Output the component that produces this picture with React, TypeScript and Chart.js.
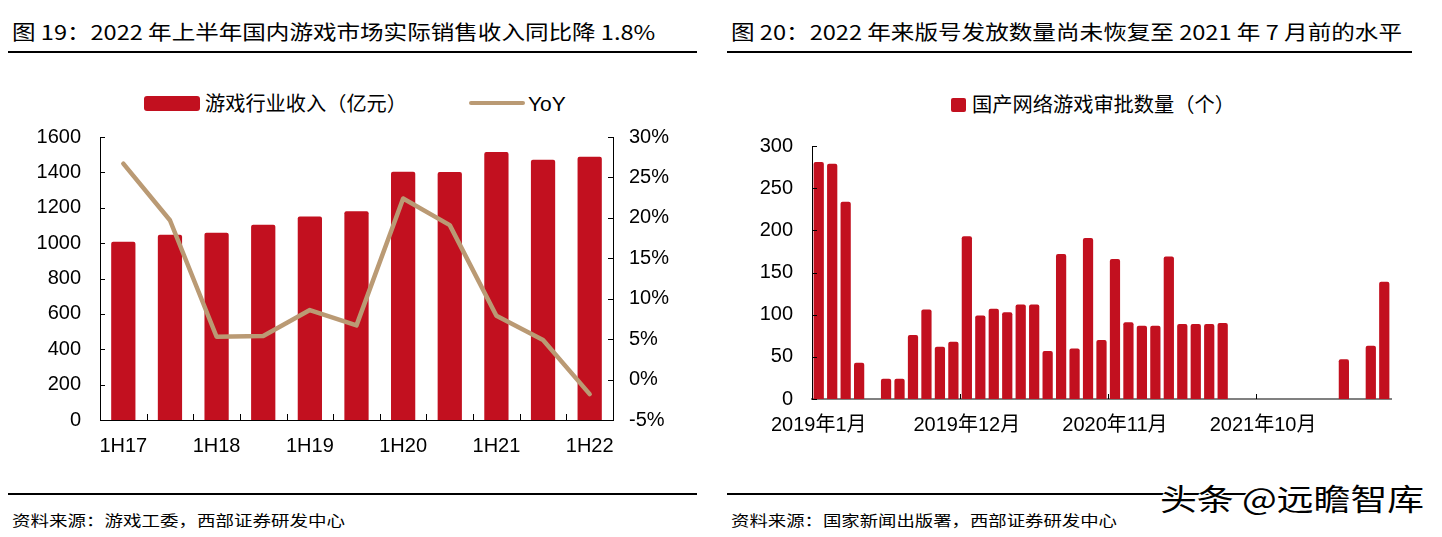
import React, { useEffect, useLayoutEffect, useRef, useState } from 'react';
import { Chart, registerables } from 'chart.js';

Chart.register(...registerables);

// ---------- data ----------
const halfYears = ['1H17', '2H17', '1H18', '2H18', '1H19', '2H19', '1H20', '2H20', '1H21', '2H21', '1H22'];
const revenue = [1008, 1048, 1059, 1104, 1150, 1180, 1404, 1402, 1515, 1472, 1489];
const yoy = [26.7, 19.7, 5.3, 5.4, 8.6, 6.7, 22.4, 19.1, 7.9, 4.9, -1.8];

const months = [
  '2019年1月', '2019年2月', '2019年3月', '2019年4月', '2019年5月', '2019年6月',
  '2019年7月', '2019年8月', '2019年9月', '2019年10月', '2019年11月', '2019年12月',
  '2020年1月', '2020年2月', '2020年3月', '2020年4月', '2020年5月', '2020年6月',
  '2020年7月', '2020年8月', '2020年9月', '2020年10月', '2020年11月', '2020年12月',
  '2021年1月', '2021年2月', '2021年3月', '2021年4月', '2021年5月', '2021年6月',
  '2021年7月', '2021年8月', '2021年9月', '2021年10月', '2021年11月', '2021年12月',
  '2022年1月', '2022年2月', '2022年3月', '2022年4月', '2022年5月', '2022年6月',
  '2022年7月',
];
const approvals = [
  281, 279, 234, 43, 0, 24, 24, 76, 106, 62, 68, 193,
  99, 107, 103, 112, 112, 57, 172, 60, 191, 70, 166, 91,
  87, 87, 169, 89, 89, 89, 90, 0, 0, 0, 0, 0,
  0, 0, 0, 47, 0, 63, 139,
];
const shownMonthIdx = [0, 11, 22, 33];

const revenueTicks = { min: 0, max: 1600, step: 200 };
const yoyTicks = { min: -5, max: 30, step: 5 };
const approvalTicks = { min: 0, max: 300, step: 50 };

// ---------- style ----------
const RED = '#C2101F';
const TAN = '#BA9A74';
const NUM_FONT = '"Liberation Sans", Arial, "Noto Sans CJK SC", sans-serif';
const CJK_FONT = '"Noto Sans CJK SC", "Liberation Sans", sans-serif';

function FitText({ text, x, cy, width, size, family, color = '#000', shadow }: any) {
  const ref = useRef<HTMLSpanElement>(null);
  const [scale, setScale] = useState(1);
  useLayoutEffect(() => {
    const measure = () => {
      const el = ref.current;
      if (!el) return;
      const w = el.offsetWidth;
      if (w > 0) setScale(width / w);
    };
    measure();
    const f: any = (document as any).fonts;
    if (f && f.ready) f.ready.then(measure);
  }, [text, width, size, family]);
  return (
    <span
      ref={ref}
      style={{
        position: 'absolute',
        left: x,
        top: cy - size / 2,
        fontSize: size,
        lineHeight: `${size}px`,
        fontFamily: family,
        whiteSpace: 'nowrap',
        transform: `scaleX(${scale})`,
        transformOrigin: '0 50%',
        color,
        textShadow: shadow,
      }}
    >
      {text}
    </span>
  );
}

const tickFont = { family: NUM_FONT, size: 20 };

const ticksPlugin1 = {
  id: 'innerTicks1',
  afterDraw(chart: any) {
    const { ctx, chartArea: a, scales } = chart;
    ctx.save();
    ctx.strokeStyle = '#000';
    ctx.lineWidth = 1;
    ctx.beginPath();
    scales.y.ticks.forEach((t: any) => {
      const y = Math.round(scales.y.getPixelForValue(t.value)) + 0.5;
      ctx.moveTo(a.left, y);
      ctx.lineTo(a.left + 5, y);
    });
    scales.y1.ticks.forEach((t: any) => {
      const y = Math.round(scales.y1.getPixelForValue(t.value)) + 0.5;
      ctx.moveTo(a.right - 5, y);
      ctx.lineTo(a.right, y);
    });
    for (let i = 1; i < halfYears.length; i++) {
      const x = Math.round((scales.x.getPixelForValue(i - 1) + scales.x.getPixelForValue(i)) / 2) + 0.5;
      ctx.moveTo(x, a.bottom);
      ctx.lineTo(x, a.bottom - 6);
    }
    ctx.stroke();
    ctx.restore();
  },
};

const ticksPlugin2 = {
  id: 'innerTicks2',
  afterDraw(chart: any) {
    const { ctx, chartArea: a, scales } = chart;
    ctx.save();
    ctx.strokeStyle = '#000';
    ctx.lineWidth = 1;
    ctx.beginPath();
    scales.y.ticks.forEach((t: any) => {
      const y = Math.round(scales.y.getPixelForValue(t.value)) + 0.5;
      ctx.moveTo(a.left, y);
      ctx.lineTo(a.left + 5, y);
    });
    shownMonthIdx.forEach((i) => {
      if (i === 0) return;
      const x = Math.round((scales.x.getPixelForValue(i - 1) + scales.x.getPixelForValue(i)) / 2) + 0.5;
      ctx.moveTo(x, a.bottom);
      ctx.lineTo(x, a.bottom - 5);
    });
    ctx.stroke();
    ctx.restore();
  },
};

function RevenueChart() {
  const ref = useRef<HTMLCanvasElement>(null);
  useEffect(() => {
    const chart = new Chart(ref.current as HTMLCanvasElement, {
      type: 'bar',
      data: {
        labels: halfYears,
        datasets: [
          {
            type: 'line',
            label: 'YoY',
            data: yoy,
            yAxisID: 'y1',
            borderColor: TAN,
            borderWidth: 4.5,
            pointRadius: 0,
            tension: 0,
            borderCapStyle: 'round',
            borderJoinStyle: 'round',
            order: 0,
          } as any,
          {
            type: 'bar',
            label: '游戏行业收入（亿元）',
            data: revenue,
            yAxisID: 'y',
            backgroundColor: RED,
            barPercentage: 0.52,
            categoryPercentage: 1,
            borderRadius: 2,
            order: 1,
          } as any,
        ],
      },
      options: {
        animation: false,
        responsive: true,
        maintainAspectRatio: false,
        layout: { padding: { top: 10, left: 0, right: 0, bottom: 0 } },
        plugins: { legend: { display: false }, tooltip: { enabled: false } },
        scales: {
          x: {
            grid: { display: false, drawTicks: false },
            border: { display: true, color: '#000', width: 1 },
            ticks: {
              autoSkip: false,
              maxRotation: 0,
              padding: 14,
              color: '#000',
              font: tickFont,
              callback: (_v: any, i: number) => (i % 2 === 0 ? halfYears[i] : ''),
            },
            afterFit: (s: any) => { s.height = 60; },
          },
          y: {
            position: 'left',
            min: revenueTicks.min,
            max: revenueTicks.max,
            grid: { display: false, drawTicks: false },
            border: { display: true, color: '#000', width: 1 },
            ticks: {
              stepSize: revenueTicks.step,
              padding: 19,
              color: '#000',
              font: tickFont,
              callback: (v: any) => String(v),
            },
            afterFit: (s: any) => { s.width = 100; },
          },
          y1: {
            position: 'right',
            min: yoyTicks.min,
            max: yoyTicks.max,
            grid: { display: false, drawTicks: false },
            border: { display: true, color: '#000', width: 1 },
            ticks: {
              stepSize: yoyTicks.step,
              padding: 16,
              color: '#000',
              font: tickFont,
              callback: (v: any) => `${v}%`,
            },
            afterFit: (s: any) => { s.width = 87; },
          },
        },
      } as any,
      plugins: [ticksPlugin1],
    });
    return () => chart.destroy();
  }, []);
  return (
    <div style={{ position: 'absolute', left: 0, top: 106, width: 700, height: 374 }}>
      <canvas ref={ref} />
    </div>
  );
}

function ApprovalChart() {
  const ref = useRef<HTMLCanvasElement>(null);
  useEffect(() => {
    const chart = new Chart(ref.current as HTMLCanvasElement, {
      type: 'bar',
      data: {
        labels: months,
        datasets: [
          {
            label: '国产网络游戏审批数量（个）',
            data: approvals,
            backgroundColor: RED,
            barPercentage: 0.76,
            categoryPercentage: 1,
            borderRadius: 2,
          } as any,
        ],
      },
      options: {
        animation: false,
        responsive: true,
        maintainAspectRatio: false,
        layout: { padding: { top: 9, left: 0, right: 51, bottom: 0 } },
        plugins: { legend: { display: false }, tooltip: { enabled: false } },
        scales: {
          x: {
            grid: { display: false, drawTicks: false },
            border: { display: true, color: '#808080', width: 2 },
            ticks: {
              autoSkip: false,
              maxRotation: 0,
              padding: 14,
              color: '#000',
              font: tickFont,
              callback: (_v: any, i: number) => (shownMonthIdx.includes(i) ? months[i] : ''),
            },
            afterFit: (s: any) => { s.height = 51; },
          },
          y: {
            min: approvalTicks.min,
            max: approvalTicks.max,
            grid: { display: false, drawTicks: false },
            border: { display: true, color: '#000', width: 1 },
            ticks: {
              stepSize: approvalTicks.step,
              padding: 19,
              color: '#000',
              font: tickFont,
              callback: (v: any) => String(v),
            },
            afterFit: (s: any) => { s.width = 92; },
          },
        },
      } as any,
      plugins: [ticksPlugin2],
    });
    return () => chart.destroy();
  }, []);
  return (
    <div style={{ position: 'absolute', left: 720, top: 115, width: 722, height: 335 }}>
      <canvas ref={ref} />
    </div>
  );
}

const line = (left: number, top: number, width: number): React.CSSProperties => ({
  position: 'absolute', left, top, width, height: 2, background: '#000',
});

export default function App() {
  return (
    <div style={{ position: 'absolute', left: 0, top: 0, width: 1442, height: 537, background: '#fff', overflow: 'hidden' }}>
      {/* titles */}
      <FitText text="图 19：2022 年上半年国内游戏市场实际销售收入同比降 1.8%" x={12} cy={32} width={643} size={20} family={CJK_FONT} />
      <FitText text="图 20：2022 年来版号发放数量尚未恢复至 2021 年 7 月前的水平" x={731} cy={32} width={671} size={20} family={CJK_FONT} />
      <div style={line(8, 51, 689)} />
      <div style={line(727, 51, 685)} />

      {/* legend 1 */}
      <div style={{ position: 'absolute', left: 144, top: 96, width: 56, height: 15, background: RED, borderRadius: 3 }} />
      <FitText text="游戏行业收入（亿元）" x={205} cy={103} width={202} size={20} family={CJK_FONT} />
      <div style={{ position: 'absolute', left: 469, top: 101, width: 56, height: 4, background: TAN, borderRadius: 2 }} />
      <FitText text="YoY" x={528} cy={103} width={38} size={21} family={NUM_FONT} />

      {/* legend 2 */}
      <div style={{ position: 'absolute', left: 951, top: 98, width: 15, height: 14, background: RED, borderRadius: 2 }} />
      <FitText text="国产网络游戏审批数量（个）" x={972} cy={104} width={263} size={20} family={CJK_FONT} />

      <RevenueChart />
      <ApprovalChart />

      {/* footers */}
      <div style={line(8, 493, 689)} />
      <div style={line(727, 493, 520)} />
      <FitText text="资料来源：游戏工委，西部证券研发中心" x={12} cy={519} width={333} size={15} family={CJK_FONT} />
      <FitText text="资料来源：国家新闻出版署，西部证券研发中心" x={731} cy={519} width={386} size={15} family={CJK_FONT} />
      <FitText
        text="头条 @远瞻智库"
        x={1160}
        cy={497}
        width={264}
        size={30}
        family={CJK_FONT}
        shadow="1px 1px 0 #fff, -1px -1px 0 #fff, 1px -1px 0 #fff, -1px 1px 0 #fff"
      />
    </div>
  );
}
